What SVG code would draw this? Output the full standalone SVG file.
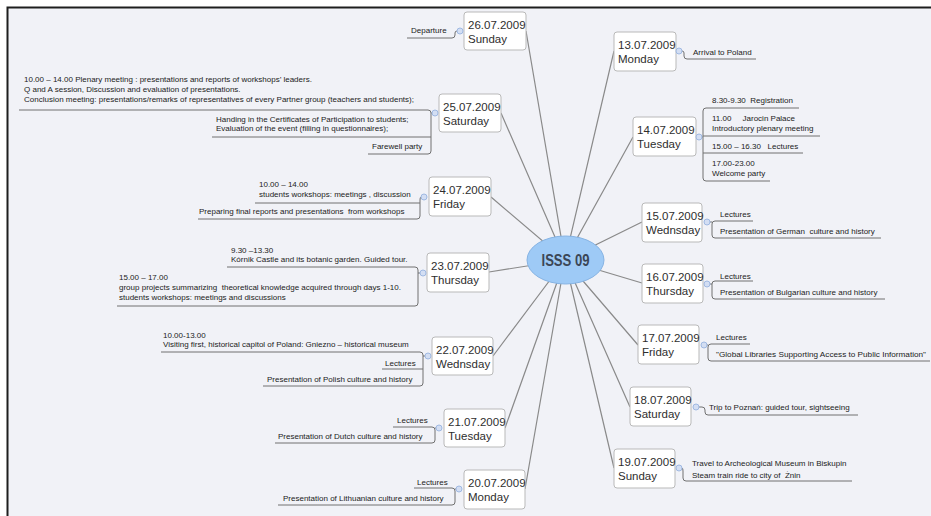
<svg xmlns="http://www.w3.org/2000/svg" width="931" height="516" viewBox="0 0 931 516">
<style>
.bg{fill:#f1f2f7}
.frame{stroke:#1e1e1e;stroke-width:2;fill:none}
.ray{stroke:#8a8a8a;stroke-width:1.2;fill:none}
.br{stroke:#707070;stroke-width:1;fill:none}
.box{fill:#ffffff;stroke:#b9b9b9;stroke-width:1}
.dt{font-family:"Liberation Sans",Arial,sans-serif;font-size:11.5px;fill:#2e2e2e}
.st{font-family:"Liberation Sans",Arial,sans-serif;font-size:8px;fill:#222}
.dot{fill:#d3def3;stroke:#9fb9e2;stroke-width:1}
.hub{fill:#9ecaf6;stroke:#86b3e3;stroke-width:1}
.hubt{font-family:"Liberation Sans",Arial,sans-serif;font-size:16px;font-weight:bold;fill:#3b4656}
</style>
<rect x="0" y="0" width="931" height="516" fill="#ffffff"/>
<rect class="bg" x="8" y="8" width="923" height="508"/>
<path class="frame" d="M7.5 516 V7.5 H931"/>

<g id="connectors">
  <path class="ray" d="M565 260 L526 31 M565 260 L501 113 M565 260 L491 197 M565 260 L489 272 M565 260 L493 356 M565 260 L505 428 M565 260 L525 489"/>
  <path class="ray" d="M565 260 L614 51 M565 260 L633 137 M565 260 L642 222 M565 260 L642 283 M565 260 L638 345 M565 260 L630 407 M565 260 L614 468"/>
  <path class="br" d="M457 31 Q455 31 455 33 V35 Q455 38 452 38 H407"/>
  <path class="br" d="M19 110 H428 Q431 110 431 113 V151 Q431 154 428 154 H368 M212 137 H431 M431 113 H432"/>
  <path class="br" d="M421 197 Q420 197 420 200 V216 Q420 219 417 219 H198 M255 203 H420"/>
  <path class="br" d="M227 267 H415 Q418 267 418 270 V303 Q418 306 415 306 H117 M418 273 H420"/>
  <path class="br" d="M161 352 H420 Q423 352 423 355 V383 Q423 386 420 386 H263 M382 369 H423 M423 356 H425"/>
  <path class="br" d="M393 427 H432 Q435 427 435 430 V440 Q435 443 432 443 H275 M435 428 H436"/>
  <path class="br" d="M414 488 H452 Q455 488 455 491 V502 Q455 505 452 505 H278 M455 489 H456"/>
  <path class="br" d="M682 51 Q684 51 684 53 V56 Q684 59 687 59 H756"/>
  <path class="br" d="M799 108 H706 Q703 108 703 111 V178 Q703 181 706 181 H770 M703 136 H820 M703 153 H803 M702 137 H703"/>
  <path class="br" d="M753 221 H715 Q712 221 712 224 V235 Q712 238 715 238 H881 M710 222 H712"/>
  <path class="br" d="M753 281 H715 Q712 281 712 284 V296 Q712 299 715 299 H885 M710 284 H712"/>
  <path class="br" d="M750 344 H711 Q708 344 708 347 V358 Q708 361 711 361 H930 M707 345 H708"/>
  <path class="br" d="M699 407 H702 Q705 407 705 410 V412 Q705 415 708 415 H858"/>
  <path class="br" d="M682 468 Q683 468 683 471 V478 Q683 481 686 481 H852"/>
</g>

<g id="hub">
  <ellipse class="hub" cx="565.5" cy="260" rx="38.5" ry="24"/>
  <text class="hubt" x="565.5" y="266" text-anchor="middle" textLength="48" lengthAdjust="spacingAndGlyphs">ISSS 09</text>
</g>

<g id="d2607">
  <rect class="box" x="464" y="12" width="62" height="38" rx="3"/>
  <text class="dt" x="468" y="29">26.07.2009</text>
  <text class="dt" x="468" y="43">Sunday</text>
  <circle class="dot" cx="460" cy="31" r="3"/>
</g>
<g id="s2607-1"><text class="st" x="411" y="33">Departure</text></g>

<g id="d2507">
  <rect class="box" x="439" y="94" width="62" height="38" rx="3"/>
  <text class="dt" x="443" y="111">25.07.2009</text>
  <text class="dt" x="443" y="125">Saturday</text>
  <circle class="dot" cx="435" cy="113" r="3"/>
</g>
<g id="s2507-1">
  <text class="st" x="24" y="82">10.00 – 14.00 Plenary meeting : presentations and reports of workshops’ leaders.</text>
  <text class="st" x="24" y="92">Q and A session, Discussion and evaluation of presentations.</text>
  <text class="st" x="24" y="102">Conclusion meeting: presentations/remarks of representatives of every Partner group (teachers and students);</text>
</g>
<g id="s2507-2">
  <text class="st" x="216" y="122">Handing in the Certificates of Participation to students;</text>
  <text class="st" x="216" y="131">Evaluation of the event (filling in questionnaires);</text>
</g>
<g id="s2507-3"><text class="st" x="372" y="149">Farewell party</text></g>

<g id="d2407">
  <rect class="box" x="429" y="177" width="62" height="39" rx="3"/>
  <text class="dt" x="433" y="194">24.07.2009</text>
  <text class="dt" x="433" y="208">Friday</text>
  <circle class="dot" cx="424" cy="197" r="3"/>
</g>
<g id="s2407-1">
  <text class="st" x="259" y="187">10.00 – 14.00</text>
  <text class="st" x="259" y="197">students workshops: meetings , discussion</text>
</g>
<g id="s2407-2"><text class="st" x="199" y="214" xml:space="preserve">Preparing final reports and presentations  from workshops</text></g>

<g id="d2307">
  <rect class="box" x="427" y="253" width="62" height="39" rx="3"/>
  <text class="dt" x="431" y="270">23.07.2009</text>
  <text class="dt" x="431" y="284">Thursday</text>
  <circle class="dot" cx="423" cy="273" r="3"/>
</g>
<g id="s2307-1">
  <text class="st" x="231" y="253">9.30 –13.30</text>
  <text class="st" x="231" y="262">Kórnik Castle and its botanic garden. Guided tour.</text>
</g>
<g id="s2307-2">
  <text class="st" x="119" y="280">15.00 – 17.00</text>
  <text class="st" x="119" y="290" xml:space="preserve">group projects summarizing  theoretical knowledge acquired through days 1-10.</text>
  <text class="st" x="119" y="300">students workshops: meetings and discussions</text>
</g>

<g id="d2207">
  <rect class="box" x="432" y="337" width="61" height="38" rx="3"/>
  <text class="dt" x="436" y="354">22.07.2009</text>
  <text class="dt" x="436" y="368">Wednsday</text>
  <circle class="dot" cx="428" cy="356" r="3"/>
</g>
<g id="s2207-1">
  <text class="st" x="163" y="338">10.00-13.00</text>
  <text class="st" x="163" y="347">Visiting first, historical capitol of Poland: Gniezno – historical museum</text>
</g>
<g id="s2207-2"><text class="st" x="385" y="366">Lectures</text></g>
<g id="s2207-3"><text class="st" x="267" y="382">Presentation of Polish culture and history</text></g>

<g id="d2107">
  <rect class="box" x="444" y="409" width="61" height="38" rx="3"/>
  <text class="dt" x="448" y="426">21.07.2009</text>
  <text class="dt" x="448" y="440">Tuesday</text>
  <circle class="dot" cx="439" cy="428" r="3"/>
</g>
<g id="s2107-1"><text class="st" x="397" y="423">Lectures</text></g>
<g id="s2107-2"><text class="st" x="278" y="439">Presentation of Dutch culture and history</text></g>

<g id="d2007">
  <rect class="box" x="464" y="470" width="61" height="39" rx="3"/>
  <text class="dt" x="468" y="487">20.07.2009</text>
  <text class="dt" x="468" y="501">Monday</text>
  <circle class="dot" cx="459" cy="489" r="3"/>
</g>
<g id="s2007-1"><text class="st" x="417" y="485">Lectures</text></g>
<g id="s2007-2"><text class="st" x="283" y="501">Presentation of Lithuanian culture and history</text></g>

<g id="d1307">
  <rect class="box" x="614" y="32" width="62" height="39" rx="3"/>
  <text class="dt" x="618" y="49">13.07.2009</text>
  <text class="dt" x="618" y="63">Monday</text>
  <circle class="dot" cx="679" cy="51" r="3"/>
</g>
<g id="s1307-1"><text class="st" x="693" y="55">Arrival to Poland</text></g>

<g id="d1407">
  <rect class="box" x="633" y="117" width="63" height="39" rx="3"/>
  <text class="dt" x="637" y="134">14.07.2009</text>
  <text class="dt" x="637" y="148">Tuesday</text>
  <circle class="dot" cx="699" cy="137" r="3"/>
</g>
<g id="s1407-1"><text class="st" x="712" y="103" xml:space="preserve">8.30-9.30  Registration</text></g>
<g id="s1407-2">
  <text class="st" x="712" y="121" xml:space="preserve">11.00     Jarocin Palace</text>
  <text class="st" x="712" y="131">Introductory plenary meeting</text>
</g>
<g id="s1407-3"><text class="st" x="712" y="149" xml:space="preserve">15.00 – 16.30   Lectures</text></g>
<g id="s1407-4">
  <text class="st" x="712" y="166">17.00-23.00</text>
  <text class="st" x="712" y="176">Welcome party</text>
</g>

<g id="d1507">
  <rect class="box" x="642" y="203" width="60" height="39" rx="3"/>
  <text class="dt" x="646" y="220">15.07.2009</text>
  <text class="dt" x="646" y="234">Wednsday</text>
  <circle class="dot" cx="707" cy="222" r="3"/>
</g>
<g id="s1507-1"><text class="st" x="720" y="217">Lectures</text></g>
<g id="s1507-2"><text class="st" x="720" y="234" xml:space="preserve">Presentation of German  culture and history</text></g>

<g id="d1607">
  <rect class="box" x="642" y="264" width="61" height="39" rx="3"/>
  <text class="dt" x="646" y="281">16.07.2009</text>
  <text class="dt" x="646" y="295">Thursday</text>
  <circle class="dot" cx="707" cy="284" r="3"/>
</g>
<g id="s1607-1"><text class="st" x="720" y="279">Lectures</text></g>
<g id="s1607-2"><text class="st" x="720" y="295">Presentation of Bulgarian culture and history</text></g>

<g id="d1707">
  <rect class="box" x="638" y="325" width="61" height="39" rx="3"/>
  <text class="dt" x="642" y="342">17.07.2009</text>
  <text class="dt" x="642" y="356">Friday</text>
  <circle class="dot" cx="704" cy="345" r="3"/>
</g>
<g id="s1707-1"><text class="st" x="716" y="340">Lectures</text></g>
<g id="s1707-2"><text class="st" x="716" y="357" textLength="210" lengthAdjust="spacingAndGlyphs">"Global Libraries Supporting Access to Public Information"</text></g>

<g id="d1807">
  <rect class="box" x="630" y="387" width="61" height="39" rx="3"/>
  <text class="dt" x="634" y="404">18.07.2009</text>
  <text class="dt" x="634" y="418">Saturday</text>
  <circle class="dot" cx="696" cy="407" r="3"/>
</g>
<g id="s1807-1"><text class="st" x="709" y="410">Trip to Poznań: guided tour, sightseeing</text></g>

<g id="d1907">
  <rect class="box" x="614" y="449" width="61" height="39" rx="3"/>
  <text class="dt" x="618" y="466">19.07.2009</text>
  <text class="dt" x="618" y="480">Sunday</text>
  <circle class="dot" cx="679" cy="468" r="3"/>
</g>
<g id="s1907-1">
  <text class="st" x="692" y="466">Travel to Archeological Museum in Biskupin</text>
  <text class="st" x="692" y="478" xml:space="preserve">Steam train ride to city of  Żnin</text>
</g>
</svg>
